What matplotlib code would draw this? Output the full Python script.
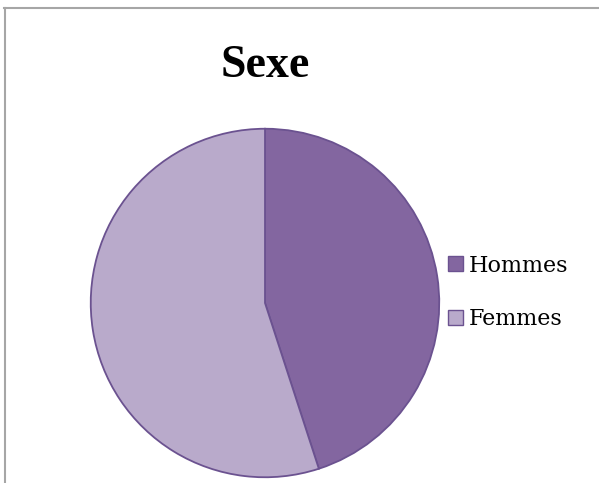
import matplotlib
matplotlib.use("Agg")
import matplotlib.pyplot as plt
from matplotlib.lines import Line2D
from matplotlib.patches import Patch

labels = ["Hommes", "Femmes"]
values = [45, 55]
colors = ["#8366A0", "#B9AACB"]
edge = "#6B5290"

W, H = 599, 483
fig = plt.figure(figsize=(W / 100, H / 100), dpi=100)
fig.patch.set_facecolor("white")

# frame lines (top and left)
fig.add_artist(Line2D([4 / W, 1], [1 - 7.5 / H, 1 - 7.5 / H], color="#A6A6A6", lw=1.5, transform=fig.transFigure))
fig.add_artist(Line2D([4.5 / W, 4.5 / W], [0, 1 - 7.5 / H], color="#A6A6A6", lw=1.5, transform=fig.transFigure))

cx, cy, r = 265, 303, 176
ax = fig.add_axes([(cx - r) / W, (H - cy - r) / H, 2 * r / W, 2 * r / H])
wedges, _ = ax.pie(values, colors=colors, startangle=90, counterclock=False,
                   radius=1, wedgeprops=dict(edgecolor=edge, linewidth=1.3))
ax.set_xlim(-1.01, 1.01)
ax.set_ylim(-1.01, 1.01)
ax.set_aspect("equal")
ax.axis("off")

fig.text(265 / W, 1 - 66 / H, "Sexe", ha="center", va="center",
         fontsize=33, fontweight="bold", family="Liberation Serif")

handles = [Patch(facecolor=c, edgecolor=edge, linewidth=1) for c in colors]
leg = fig.legend(handles, labels, loc="center left", bbox_to_anchor=(448 / W, 1 - 292.5 / H),
                 frameon=False, prop=dict(family="DejaVu Serif", size=16),
                 handlelength=0.68, handleheight=0.68, handletextpad=0.27, labelspacing=1.43,
                 borderaxespad=0, borderpad=0)

fig.savefig("out.png", dpi=100)
